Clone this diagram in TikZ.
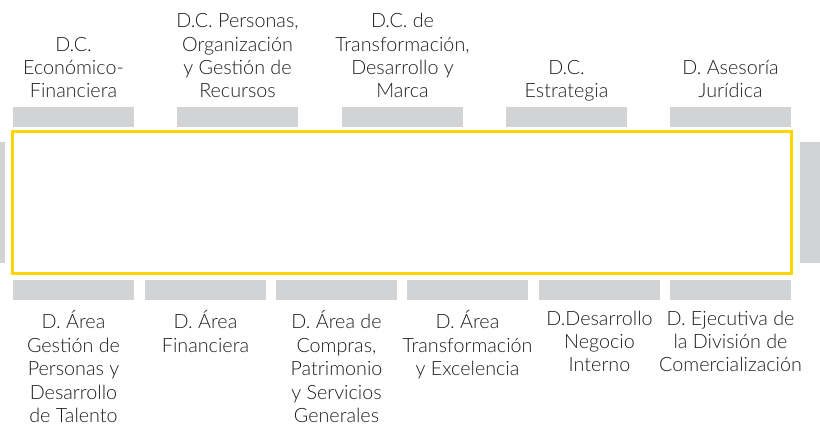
\documentclass[tikz,border=0pt]{standalone}
\usepackage{fontspec}
\setmainfont{Lato Light}
\usetikzlibrary{positioning}

\definecolor{barGrey}{HTML}{D1D3D4}
\definecolor{frameYellow}{HTML}{FFD500}
\definecolor{txtGrey}{HTML}{1E1E1E}

\begin{document}
\begin{tikzpicture}[x=0.75pt, y=-0.75pt,
  bar/.style={rectangle, fill=barGrey, minimum width=90.75pt, minimum height=15pt, inner sep=0, outer sep=0},
  lbl/.style={align=center, inner sep=0, outer sep=0, text=txtGrey, font=\fontsize{14.8}{17.6}\selectfont},
  toplbl/.style={lbl, execute at end node=\strut},
  botlbl/.style={lbl, execute at begin node=\strut}]

\useasboundingbox (0,0) rectangle (820,426);

% Frame
\node[draw=frameYellow, line width=2.25pt, minimum width=584.25pt, minimum height=106.5pt, inner sep=0] (frame) at (402,202.5) {};

% Side bars
\fill[barGrey] (0,142) rectangle (5,263);
\fill[barGrey] (800,142) rectangle (820,263);

% Top bars
\node[bar] (t1) at (73.5,117) {};
\node[bar] (t2) at (237.5,117) {};
\node[bar] (t3) at (402.5,117) {};
\node[bar] (t4) at (566.5,117) {};
\node[bar] (t5) at (730.5,117) {};

% Bottom bars
\node[bar] (b1) at (73.5,290) {};
\node[bar] (b2) at (205.5,290) {};
\node[bar] (b3) at (336.5,290) {};
\node[bar] (b4) at (467.5,290) {};
\node[bar] (b5) at (599.5,290) {};
\node[bar] (b6) at (730.5,290) {};

% Top labels
\node[toplbl, above=1.5pt of t1] (tl1) {D.C.\\Económico-\\Financiera};
\node[toplbl, above=1.5pt of t2] (tl2) {D.C. Personas,\\Organización\\y Gestión de\\Recursos};
\node[toplbl, above=1.5pt of t3] (tl3) {D.C. de\\Transformación,\\Desarrollo y\\Marca};
\node[toplbl, above=1.5pt of t4] (tl4) {D.C.\\Estrategia};
\node[toplbl, above=1.5pt of t5] (tl5) {D. Asesoría\\Jurídica};

% Bottom labels
\node[botlbl, below=8pt of b1] (bl1) {D. Área\\Gestión de\\Personas y\\Desarrollo\\de Talento};
\node[botlbl, below=8pt of b2] (bl2) {D. Área\\Financiera};
\node[botlbl, below=8pt of b3] (bl3) {D. Área de\\Compras,\\Patrimonio\\y Servicios\\Generales};
\node[botlbl, below=8pt of b4] (bl4) {D. Área\\Transformación\\y Excelencia};
\node[botlbl, below=8pt of b5] (bl5) {D.Desarrollo\\Negocio\\Interno};
\node[botlbl, below=8pt of b6] (bl6) {D. Ejecutiva de\\la División de\\Comercialización};

\end{tikzpicture}
\end{document}
